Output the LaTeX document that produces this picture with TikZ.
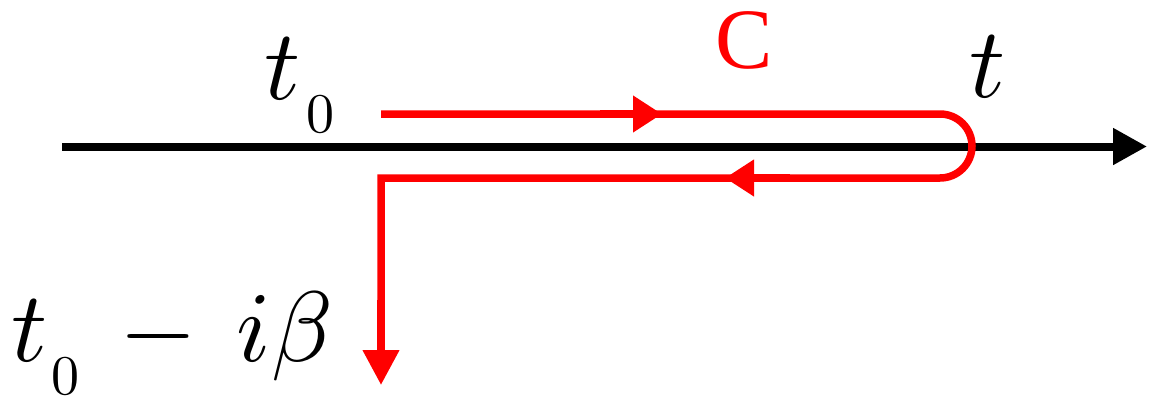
\documentclass[tikz,border=0pt]{standalone}
\usepackage{graphicx}
\usepackage{fontspec}
\newfontfamily\cfont{Liberation Serif}
\usetikzlibrary{arrows.meta}
\tikzset{
  axisline/.style={line width=8pt, black, -{Triangle[length=34pt,width=35pt]}},
  contour/.style={line width=7.5pt, red},
  midtip/.style={contour, -{Triangle[length=29pt,width=35pt]}},
  endtip/.style={contour, -{Triangle[length=35pt,width=35pt]}},
  lbl/.style={inner sep=0pt, outer sep=0pt, anchor=base west},
}
\newcommand{\myBig}[1]{\scalebox{10}{$#1$}}
\newcommand{\mySub}[1]{\raisebox{-33pt}{\scalebox{5.6}{$#1$}}}
\begin{document}
\begin{tikzpicture}[x=1pt,y=-1pt]
\useasboundingbox (0,0) rectangle (1157,399);
% axis
\coordinate (axL) at (62,146.5);
\coordinate (axR) at (1147,146.5);
\draw[axisline] (axL) -- (axR);
% contour
\coordinate (c0) at (381,114);
\coordinate (c1) at (940,114);
\coordinate (c2) at (940,178);
\coordinate (c3) at (381,178);
\coordinate (c4) at (381,385);
\draw[contour, line join=miter] (c0) -- (c1) arc[start angle=90, end angle=-90, radius=32pt] -- (c3) -- (381,340);
\draw[endtip] (381,300) -- (c4);
% mid arrows
\coordinate (m1a) at (600,114);
\coordinate (m1b) at (662,114);
\coordinate (m2a) at (790,178);
\coordinate (m2b) at (725,178);
\draw[midtip] (m1a) -- (m1b);
\draw[midtip] (m2a) -- (m2b);
% labels
\node[lbl] (t0) at (264,99) {\myBig{t}\kern 6pt\mySub{0}};
\node[inner sep=0pt, anchor=base, text=red] (C) at (744.5,68) {\fontsize{86}{86}\cfont C};
\node[lbl] (t) at (969,97) {\myBig{t}};
\node[lbl] (tb) at (11,361) {\myBig{t}\kern 4pt\mySub{0}\kern 40pt\myBig{-}\kern 40pt\myBig{i\beta}};
\end{tikzpicture}
\end{document}
